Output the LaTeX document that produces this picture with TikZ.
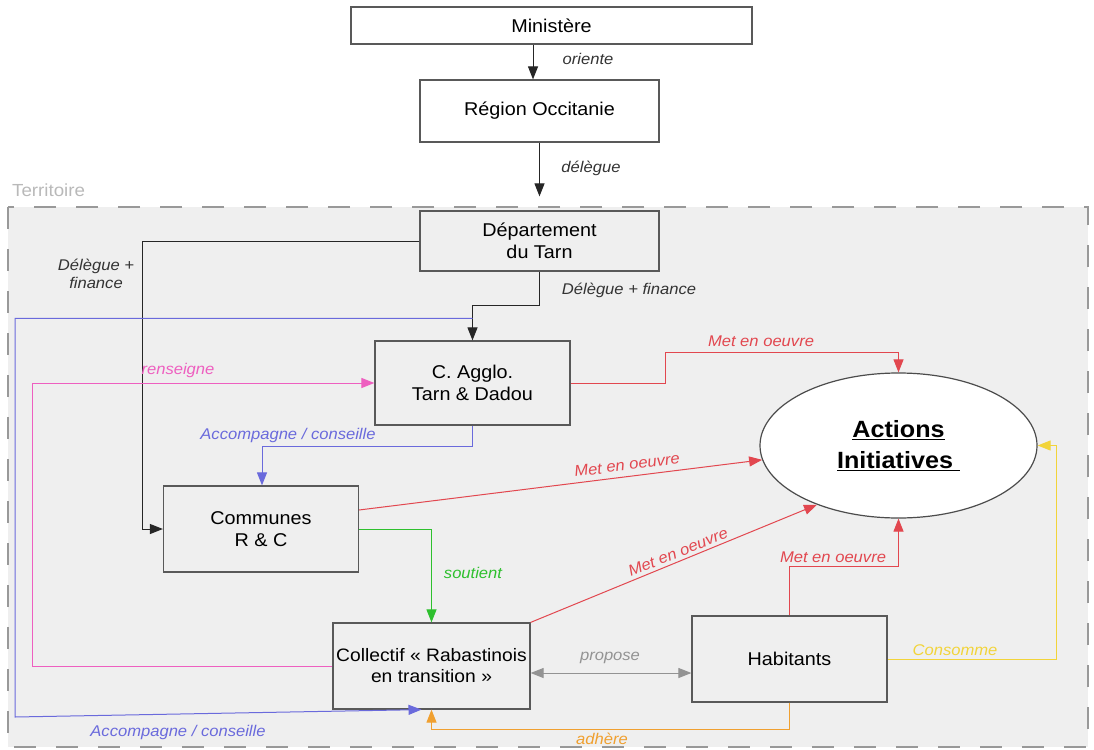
\documentclass[tikz,border=0pt]{standalone}
\usepackage{fontspec}
\setmainfont{Liberation Sans}[FakeStretch=1.07]
\usetikzlibrary{arrows.meta,shapes.geometric}

\definecolor{terr}{HTML}{EFEFEF}
\definecolor{rouge}{HTML}{E2474F}
\definecolor{rose}{HTML}{EE5FC0}
\definecolor{bleu}{HTML}{6A6ADC}
\definecolor{vert}{HTML}{2EC02E}
\definecolor{jaune}{HTML}{F2D43A}
\definecolor{orng}{HTML}{F0A030}
\definecolor{gris}{HTML}{939393}

\begin{document}
\begin{tikzpicture}[x=1pt, y=-1pt,
    box/.style={draw=black!65, line width=1.2pt, fill=terr, align=center,
      minimum width=195pt, minimum height=86pt, inner sep=0pt,
      font=\fontsize{18.5}{22}\selectfont},
    lbl/.style={font=\fontsize{15.5}{18}\selectfont\itshape, inner sep=0pt},
    arr/.style={line width=1pt, -{Triangle[length=13pt,width=10pt]}}]
  \useasboundingbox (0,0) rectangle (1094,749);

  % territoire
  \draw[fill=terr, draw=gray!80, line width=1.5pt, dash pattern=on 22pt off 20pt]
    (8,207) rectangle (1088,747);
  \node[text=gray!55, font=\fontsize{17.5}{20}\selectfont, anchor=west, inner sep=0pt]
    (terrlbl) at (12,190) {Territoire};

  % acteurs
  \node[box, fill=white, minimum width=401pt, minimum height=37pt] (mini) at (551.5,25.5) {Ministère};
  \node[box, fill=white, minimum width=239pt, minimum height=62pt] (region) at (539.5,111) {Région Occitanie};
  \node[box, minimum width=239pt, minimum height=60pt] (dep) at (539.5,241) {Département\\du Tarn};
  \node[box, minimum height=84pt] (agglo) at (472.5,383) {C. Agglo.\\Tarn \& Dadou};
  \node[box] (comm) at (261,529) {Communes\\R \& C};
  \node[box, minimum width=197pt, font=\fontsize{18}{21}\selectfont] (coll) at (431.5,666)
    {Collectif « Rabastinois\\en transition »};
  \node[box] (hab) at (789.5,659) {Habitants};
  \node[ellipse, draw=black!70, line width=1.2pt, fill=white, minimum width=277pt,
    minimum height=145pt, inner sep=0pt, align=center,
    font=\fontsize{23.5}{31}\selectfont\bfseries] (act) at (898.5,445.5)
    {\underline{Actions}\\\underline{Initiatives\ }};

  % liens
  \coordinate (ox) at ([xshift=-6.5pt]region.north);
  \draw[arr, black!85] (ox |- mini.south) -- (ox);
  \draw[arr, black!85] (region.south) -- ([yshift=14pt]dep.north);
  \draw[arr, black!85] (dep.west) -| ([xshift=-20pt]comm.west) -- (comm.west);
  \draw[arr, black!85] (dep.south) -- ++(0,34) -| (agglo.north);
  \draw[arr, bleu] ([yshift=22pt]agglo.north) -| (15,717) -- ([xshift=-10pt]coll.south);
  \draw[arr, rose] (coll.west) -| (32,383) -- (agglo.west);
  \draw[arr, bleu] (agglo.south) -- ++(0,21) -| ([xshift=1pt]comm.north);
  \draw[arr, rouge] (agglo.east) -| (665,352) -| (act.north);
  \draw[arr, rouge] ([yshift=19pt]comm.east) -- (act.186);
  \draw[arr, vert] (comm.east) -| (coll.north);
  \draw[arr, rouge] (coll.north east) -- (act.216);
  \draw[arr, rouge] (hab.north) -- ++(0,-49) -| (act.south);
  \coordinate (gp) at ([yshift=-7pt]coll.east);
  \draw[arr, gris, {Triangle[length=13pt,width=10pt]}-{Triangle[length=13pt,width=10pt]}]
    (gp) -- (gp -| hab.west);
  \draw[arr, jaune] (hab.east) -| ([xshift=19pt]act.east) -- (act.east);
  \draw[arr, orng] (hab.south) -- ++(0,27) -| (coll.south);

  % etiquettes
  \node[lbl, text=black!80] (l1) at (588,59) {oriente};
  \node[lbl, text=black!80] (l2) at (591,168) {délègue};
  \node[lbl, text=black!80, align=center] (l3) at (96,274) {Délègue +\\finance};
  \node[lbl, text=black!80] (l4) at (629,290) {Délègue + finance};
  \node[lbl, text=rose] (l5) at (178,370) {renseigne};
  \node[lbl, text=bleu] (l6) at (288,435) {Accompagne / conseille};
  \node[lbl, text=rouge] (l7) at (761,341) {Met en oeuvre};
  \node[lbl, text=rouge, rotate=7.3] (l8) at (627,465) {Met en oeuvre};
  \node[lbl, text=vert] (l9) at (473,573) {soutient};
  \node[lbl, text=rouge, rotate=22] (l10) at (678,552) {Met en oeuvre};
  \node[lbl, text=rouge] (l11) at (833,557) {Met en oeuvre};
  \node[lbl, text=gris] (l12) at (610,658) {propose};
  \node[lbl, text=jaune] (l13) at (955,650) {Consomme};
  \node[lbl, text=orng] (l14) at (602,739) {adhère};
  \node[lbl, text=bleu] (l15) at (178,732) {Accompagne / conseille};
\end{tikzpicture}
\end{document}
